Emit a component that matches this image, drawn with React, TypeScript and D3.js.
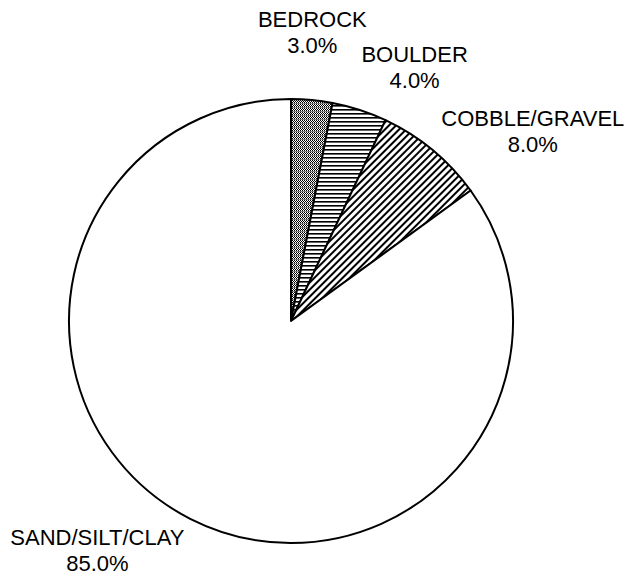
import React, { useEffect, useRef } from 'react';
import * as d3 from 'd3';

const categories = ['BEDROCK', 'BOULDER', 'COBBLE/GRAVEL', 'SAND/SILT/CLAY'];
const percents = [3.0, 4.0, 8.0, 85.0];

// label nudges from the radial position (layout only)
const labelNudge: [number, number][] = [[-6, 0], [34, 22], [57, 33], [-62, -29]];
const fills = ['url(#pBedrock)', 'url(#pBoulder)', 'url(#pCobble)', '#ffffff'];

const App: React.FC = () => {
  const ref = useRef<SVGSVGElement | null>(null);

  useEffect(() => {
    if (!ref.current) return;
    const width = 629;
    const height = 578;
    const cx = 291;
    const cy = 321;
    const radius = 222;
    const labelR = 290;

    const svg = d3.select(ref.current)
      .attr('width', width)
      .attr('height', height);
    svg.selectAll('*').remove();

    const defs = svg.append('defs');

    // dense checker-ish fill
    const pb = defs.append('pattern')
      .attr('id', 'pBedrock')
      .attr('patternUnits', 'userSpaceOnUse')
      .attr('width', 2).attr('height', 4);
    pb.append('rect').attr('width', 2).attr('height', 4).attr('fill', '#fff');
    pb.append('rect').attr('x', 0).attr('y', 0).attr('width', 1).attr('height', 1).attr('fill', '#000');
    pb.append('rect').attr('x', 1).attr('y', 1).attr('width', 1).attr('height', 1).attr('fill', '#000');
    pb.append('rect').attr('x', 0).attr('y', 2).attr('width', 2).attr('height', 1).attr('fill', '#808080');
    pb.append('rect').attr('x', 1).attr('y', 3).attr('width', 1).attr('height', 1).attr('fill', '#000');

    // horizontal lines
    const ph = defs.append('pattern')
      .attr('id', 'pBoulder')
      .attr('patternUnits', 'userSpaceOnUse')
      .attr('width', 4).attr('height', 4);
    ph.append('rect').attr('width', 4).attr('height', 4).attr('fill', '#fff');
    ph.append('rect').attr('y', 0).attr('width', 4).attr('height', 1.6).attr('fill', '#000');

    // diagonal lines
    const pd = defs.append('pattern')
      .attr('id', 'pCobble')
      .attr('patternUnits', 'userSpaceOnUse')
      .attr('width', 5).attr('height', 5)
      .attr('patternTransform', 'rotate(45)');
    pd.append('rect').attr('width', 5).attr('height', 5).attr('fill', '#fff');
    pd.append('rect').attr('x', 0).attr('width', 2).attr('height', 5).attr('fill', '#000');

    const pie = d3.pie<number>().sort(null).value(d => d);
    const arcs = pie(percents);
    const arc = d3.arc<d3.PieArcDatum<number>>().innerRadius(0).outerRadius(radius);

    const g = svg.append('g').attr('transform', `translate(${cx},${cy})`);

    g.selectAll('path.slice')
      .data(arcs)
      .enter().append('path')
      .attr('class', 'slice')
      .attr('d', arc)
      .attr('fill', (d, i) => fills[i])
      .attr('stroke', '#000')
      .attr('stroke-width', 2)
      .attr('stroke-linejoin', 'round');

    const labels = g.selectAll('g.lbl')
      .data(arcs)
      .enter().append('g')
      .attr('class', 'lbl')
      .attr('transform', (d, i) => {
        const mid = (d.startAngle + d.endAngle) / 2;
        const x = Math.sin(mid) * labelR + labelNudge[i][0];
        const y = -Math.cos(mid) * labelR + labelNudge[i][1];
        return `translate(${x},${y})`;
      });

    labels.append('text')
      .attr('text-anchor', 'middle')
      .attr('y', -5)
      .style('font-family', 'Liberation Sans, Arial, sans-serif')
      .style('font-size', '22px')
      .attr('fill', '#000')
      .text((d, i) => categories[i]);

    labels.append('text')
      .attr('text-anchor', 'middle')
      .attr('y', 21)
      .style('font-family', 'Liberation Sans, Arial, sans-serif')
      .style('font-size', '22px')
      .attr('fill', '#000')
      .text(d => `${d.data.toFixed(1)}%`);
  }, []);

  return <svg ref={ref} style={{ position: 'absolute', left: 0, top: 0 }}></svg>;
};

export default App;
